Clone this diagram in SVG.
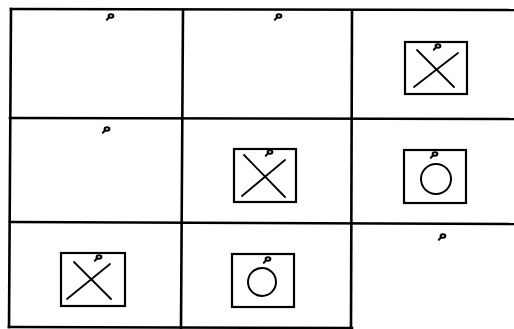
<svg xmlns="http://www.w3.org/2000/svg" width="514" height="329" viewBox="0 0 514 329">
<style>
.grid{stroke:#000;stroke-width:2.6;fill:none;stroke-linecap:square}
.box{stroke:#000;stroke-width:2.2;fill:none}
.cross{stroke:#000;stroke-width:1.8;fill:none;stroke-linecap:round}
.ring{stroke:#000;stroke-width:2;fill:none}
.mark{stroke:#000;stroke-width:2;fill:none;stroke-linecap:round}
</style>
<defs>
<g id="pmark"><ellipse cx="1" cy="-1" rx="2.4" ry="1.8" class="mark"/><line x1="-1" y1="0.5" x2="-3.2" y2="2.7" class="mark"/></g>
</defs>
<rect width="514" height="329" fill="#fff"/>
<g id="grid">
<line class="grid" x1="11" y1="9" x2="514" y2="10"/>
<line class="grid" x1="10" y1="118" x2="514" y2="119"/>
<line class="grid" x1="10" y1="222" x2="514" y2="224"/>
<line class="grid" x1="9" y1="327" x2="352" y2="328"/>
<line class="grid" x1="11" y1="9" x2="9" y2="327"/>
<line class="grid" x1="183" y1="10" x2="181" y2="328"/>
<line class="grid" x1="352" y1="11" x2="351" y2="328"/>
</g>
<g id="c11"><use href="#pmark" x="110" y="17"/></g>
<g id="c12"><use href="#pmark" x="278" y="17"/></g>
<g id="c13">
<rect class="box" x="405" y="42" width="62" height="52"/>
<line class="cross" x1="417" y1="50" x2="454" y2="87"/>
<line class="cross" x1="458" y1="53" x2="414" y2="87"/>
<use href="#pmark" x="437" y="47"/>
</g>
<g id="c21"><use href="#pmark" x="106" y="130"/></g>
<g id="c22">
<rect class="box" x="234" y="149" width="62" height="53"/>
<line class="cross" x1="244" y1="155" x2="285" y2="197"/>
<line class="cross" x1="285" y1="160" x2="242" y2="196"/>
<use href="#pmark" x="269" y="153"/>
</g>
<g id="c23">
<rect class="box" x="404" y="150" width="62" height="53"/>
<circle class="ring" cx="436" cy="179" r="15"/>
<use href="#pmark" x="434" y="155"/>
</g>
<g id="c31">
<rect class="box" x="61" y="253" width="64" height="53"/>
<line class="cross" x1="74" y1="262" x2="111" y2="299"/>
<line class="cross" x1="110" y1="264" x2="67" y2="299"/>
<use href="#pmark" x="98" y="258"/>
</g>
<g id="c32">
<rect class="box" x="232" y="254" width="62" height="53"/>
<circle class="ring" cx="262" cy="282" r="14"/>
<use href="#pmark" x="267" y="260"/>
</g>
<g id="c33"><use href="#pmark" x="442" y="237"/></g>
</svg>
